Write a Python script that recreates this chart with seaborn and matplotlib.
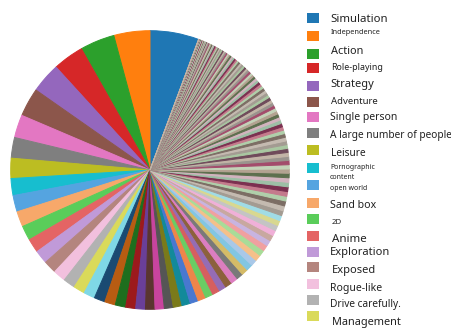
import matplotlib
matplotlib.use("Agg")
import matplotlib.pyplot as plt
from matplotlib.patches import Rectangle
import seaborn as sns

sns.set_style("white")
plt.rcParams["font.family"] = ["Noto Sans", "DejaVu Sans"]

# Tag names shown in the legend (largest tags first)
legend_labels = [
    "Simulation", "Independence", "Action", "Role-playing", "Strategy",
    "Adventure", "Single person", "A large number of people", "Leisure",
    "Pornographic\ncontent", "open world", "Sand box", "2D", "Anime",
    "Exploration", "Exposed", "Rogue-like", "Drive carefully.", "Management",
]

# Number of games carrying each tag, sorted from most to least frequent
top_counts = [196, 145, 139, 124, 121, 115, 92, 83, 81]
mid_counts = [68, 66, 62, 59, 56, 54, 52, 50, 48, 46, 45, 44, 43, 42, 40, 39, 38, 37]
low_counts = [36, 35, 34, 33, 32, 31, 30, 29, 28, 28, 27, 26, 26, 25, 25, 24, 24,
              23, 23, 22, 22, 21, 21, 20, 20, 20, 19, 19, 19, 18, 18, 18, 17, 17,
              17, 16, 16, 16, 15, 15, 15, 15]
tail_counts = [14, 14, 14, 14, 13, 13, 13, 13, 12, 12, 12, 12, 11, 11, 11, 11,
               10, 10, 10, 10, 10, 9, 9, 9, 9, 9, 8, 8, 8, 8, 8, 8, 7, 7, 7, 7,
               7, 7, 6, 6, 6, 6, 6, 6, 6, 5, 5, 5, 5, 5, 5, 5, 4, 4, 4, 4, 4, 4,
               4, 3, 3, 3, 3, 3, 3, 2, 2, 2, 2, 2, 2, 1, 1, 1, 1]
counts = top_counts + mid_counts + low_counts + tail_counts

# Slice colours
base_colors = list(sns.color_palette("tab10", 10))
light_colors = ["#55a4e0", "#f7a86a", "#5acd5a", "#e46464", "#c09ad8",
                "#b4857e", "#f2c0de", "#b2b2b2", "#dada5a", "#7fd8e6"]
dark_colors = ["#1a4a72", "#b85c12", "#1e6e1e", "#9c1a1c", "#6a3f98",
               "#5a3530", "#c8449e", "#555555", "#7a7a1a", "#128a9a"]
mid_colors = list(sns.color_palette("muted", 10))
pale_colors = ["#a9c8e8", "#f5c08a", "#a8dc98", "#f0a0a0", "#c8b4e0",
               "#c8a8a0", "#f0b0d8", "#c4c4c4", "#d8d890", "#a0dce6"]
muted_cycle = ["#a39b92", "#c4bab0", "#7c6d64", "#b0cfaa", "#c47a8c", "#7b3050",
               "#9dbfa6", "#d2b3be", "#5d6f4e", "#b3a291", "#c3d2b8", "#a34c6c",
               "#9a948e", "#c2b4a6", "#6f4a5a", "#a9c7a1"]
colors = base_colors + light_colors + dark_colors + mid_colors + pale_colors
while len(colors) < len(counts):
    colors += muted_cycle
colors = colors[:len(counts)]

W, H = 452, 331
fig = plt.figure(figsize=(W / 100, H / 100), dpi=100)
fig.patch.set_facecolor("white")

# Pie axes: centre (150, 170) px, radius 140 px
cx, cy, r = 150, 170, 140
ax = fig.add_axes([(cx - r) / W, (H - cy - r) / H, 2 * r / W, 2 * r / H])
total = sum(counts)
start = 90 - 360 * counts[0] / total
wedges, _ = ax.pie(counts, colors=colors, startangle=start, counterclock=True,
                   radius=1)
# Outline each wedge in its own colour so thin slices leave no gaps
for w in wedges:
    w.set_edgecolor(w.get_facecolor())
    w.set_linewidth(0.7)
ax.set_xlim(-1.005, 1.005)
ax.set_ylim(-1.005, 1.005)
ax.set_aspect("equal")
ax.axis("off")

# Legend: swatch centre y, text y, text x, font size
swatch_y = [17.5, 36, 54, 68, 86, 102, 117, 133, 150, 168, 185, 203, 219, 236,
            252, 267, 284, 300, 316]
text_y = [19, 33, 52, 67, 84, 102, 117, 135, 154, 172.5, 188, 205, 222, 240,
          253, 271, 288, 305, 322]
text_x = [330, 331, 331, 331, 330, 331, 330, 330, 331, 330, 330, 330, 332, 332,
          330, 332, 330, 330, 332]
sizes = [8.2, 5.3, 7.9, 6.4, 8.0, 6.9, 7.5, 7.3, 7.3, 5.0, 5.0, 7.6, 5.6, 8.3,
         8.0, 8.0, 7.5, 7.3, 7.9]

sw_w, sw_h = 12, 10
for i, label in enumerate(legend_labels):
    fc = wedges[i].get_facecolor()
    fig.add_artist(Rectangle(((307) / W, (H - swatch_y[i] - sw_h / 2) / H),
                             sw_w / W, sw_h / H, transform=fig.transFigure,
                             facecolor=fc, edgecolor="none"))
    fig.text(text_x[i] / W, (H - text_y[i]) / H, label, fontsize=sizes[i],
             ha="left", va="center", color="#222222", linespacing=1.6)

fig.savefig("out.png", dpi=100, facecolor="white")
